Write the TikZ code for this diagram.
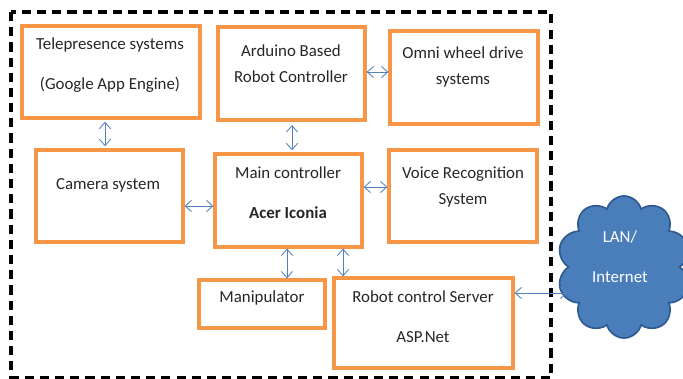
\documentclass[tikz,border=0pt]{standalone}
\usepackage{fontspec}
\setmainfont{Carlito}
\usepackage{xcolor}
\usetikzlibrary{positioning}
\usetikzlibrary{fit}
\usetikzlibrary{arrows.meta}
\usetikzlibrary{shapes.symbols}
\definecolor{boxorange}{HTML}{F79646}
\definecolor{linkblue}{HTML}{4F81BD}
\definecolor{cloudfill}{HTML}{4A7EBB}
\definecolor{cloudline}{HTML}{2F5A8F}

\begin{document}
\begin{tikzpicture}[x=0.025cm, y=-0.025cm,
    blk/.style={draw=boxorange, line width=2.3pt, inner sep=0pt},
    txt/.style={align=center, font=\fontsize{12}{14.5}\selectfont, text=black!85},
    link/.style={linkblue, line width=0.6pt, {Straight Barb[length=4.5pt,width=8pt]}-{Straight Barb[length=4.5pt,width=8pt]}}]
            \useasboundingbox (0,0) rectangle (683,379);

            % Outer dashed frame
            \draw[line width=2.4pt, dash pattern=on 6.5pt off 4.3pt] (11,12) rectangle (551,378);

            % Boxes
            \node[blk, fit={(22,26) (200,118)}] (tele) {};
            \node[blk, fit={(218,27) (365,120)}] (ard) {};
            \node[blk, fit={(390,31) (538,124)}] (omni) {};
            \node[blk, fit={(36,150) (183,242)}] (cam) {};
            \node[blk, fit={(215,154) (362,247)}] (main) {};
            \node[blk, fit={(389,150) (537,242)}] (voice) {};
            \node[blk, fit={(199,280) (325,328)}] (manip) {};
            \node[blk, fit={(334,278) (513,368)}] (server) {};

            % Cloud
            \node[cloud, cloud puffs=10, aspect=0.85, draw=cloudline, fill=cloudfill, line width=1.2pt,
                  minimum width=3.35cm, minimum height=3.55cm, inner sep=0pt] (net) at (624,267) {};

            % Texts
            \node[txt] (telet) at (110,65) {Telepresence systems\\[14pt](Google App Engine)};
            \node[txt] (ardt) at (291,64) {Arduino Based\\[4pt]Robot Controller};
            \node[txt] (omnit) at (463,67) {Omni wheel drive\\[4pt]systems};
            \node[txt] (camt) at (108,185) {Camera system};
            \node[txt] (maint) at (288,193) {Main controller\\[14pt]\textbf{Acer Iconia}};
            \node[txt] (voicet) at (463,187) {Voice Recognition\\[4pt]System};
            \node[txt] (manipt) at (262,298) {Manipulator};
            \node[txt] (servert) at (423,317) {Robot control Server\\[14pt]ASP.Net};
            \node[txt, text=white] (nett) at (620,257) {LAN/\\[14pt]Internet};

            % Links
            \draw[link] ([yshift=-1.5pt]tele.south -| 105,0) -- ([yshift=1.5pt]cam.north -| 105,0);
            \draw[link] ([yshift=-2.5pt]ard.south -| 292,0) -- ([yshift=1.5pt]main.north -| 292,0);
            \draw[link] (ard.east |- 0,72) -- (omni.west |- 0,72);
            \draw[link] (cam.east |- 0,206) -- (main.west |- 0,206);
            \draw[link] (main.east |- 0,187) -- (voice.west |- 0,187);
            \draw[link] (main.south -| 287,0) -- (manip.north -| 287,0);
            \draw[link] (main.south -| 343,0) -- (server.north -| 343,0);
            \draw[link] (server.east |- 0,293) -- (net.west |- 0,293);
        \end{tikzpicture}
\end{document}
